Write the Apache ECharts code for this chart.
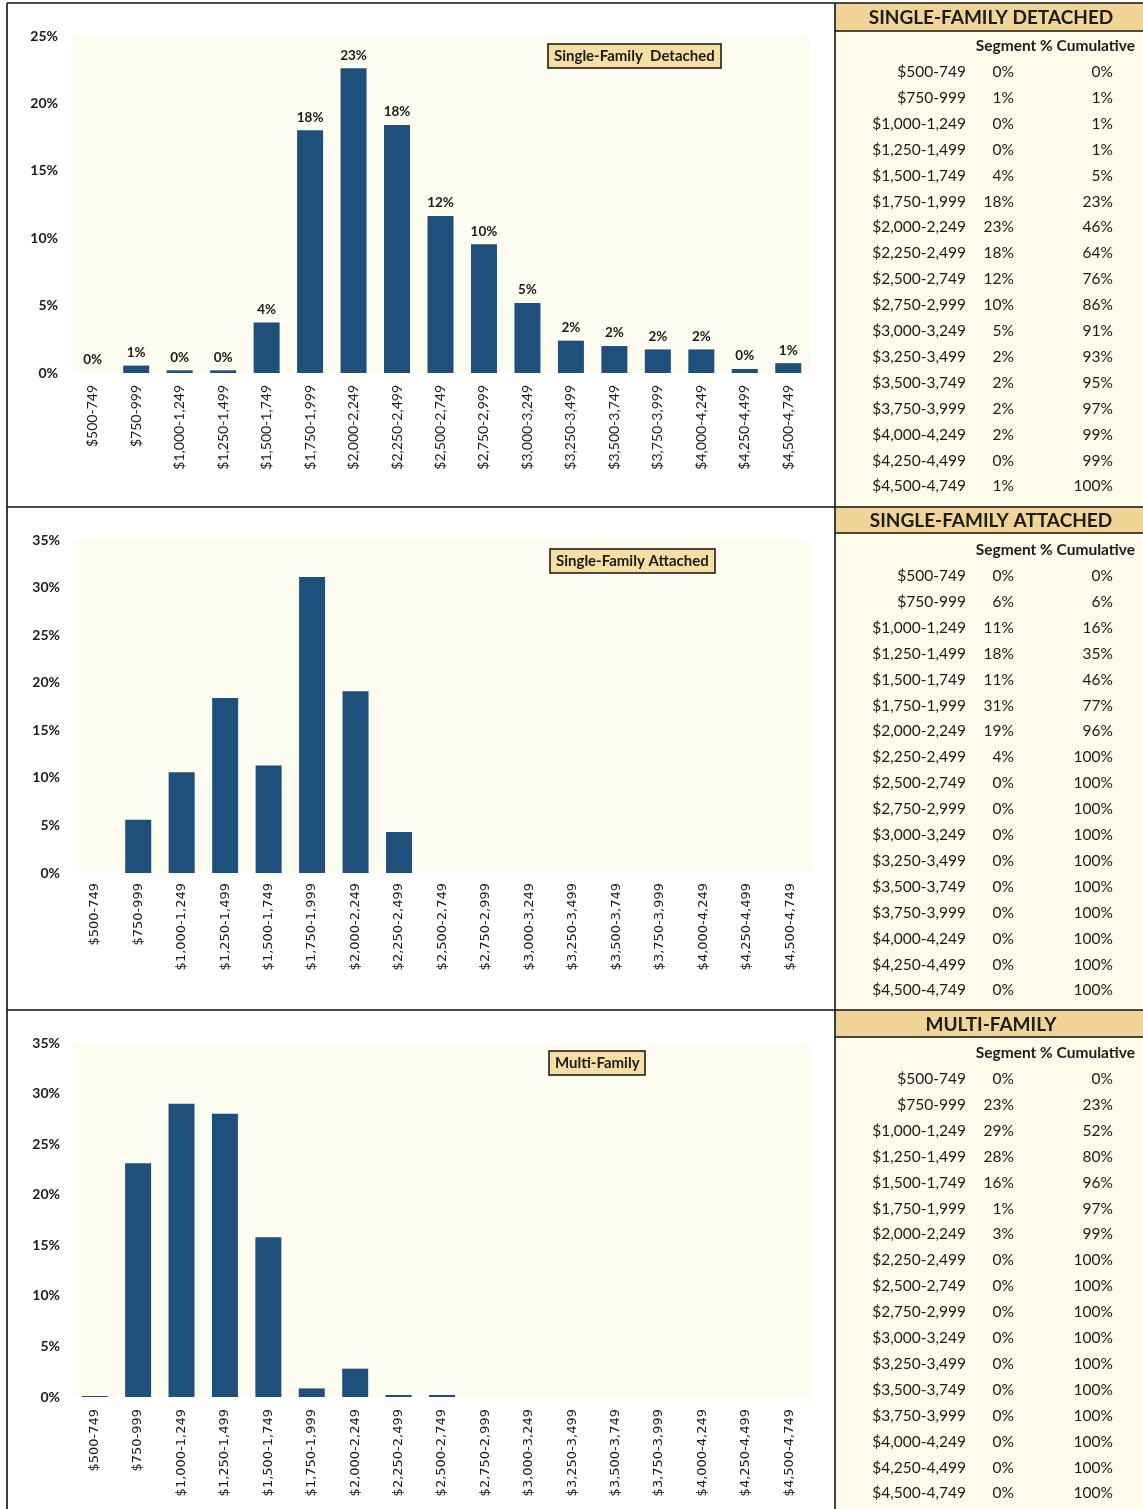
<!DOCTYPE html>
<html>
<head>
<meta charset="utf-8">
<script src="https://cdn.jsdelivr.net/npm/echarts@6/dist/echarts.min.js"></script>
<style>
html,body{margin:0;padding:0;background:#ffffff;}
#main{width:1143px;height:1509px;}
</style>
</head>
<body>
<div id="main"></div>
<script>
// ---------- DATA ----------
const categories = ['$500-749','$750-999','$1,000-1,249','$1,250-1,499','$1,500-1,749','$1,750-1,999','$2,000-2,249','$2,250-2,499','$2,500-2,749','$2,750-2,999','$3,000-3,249','$3,250-3,499','$3,500-3,749','$3,750-3,999','$4,000-4,249','$4,250-4,499','$4,500-4,749'];

const sfdValues = [0, 0.55, 0.2, 0.2, 3.74, 18.0, 22.6, 18.4, 11.65, 9.55, 5.2, 2.4, 2.0, 1.75, 1.75, 0.3, 0.73];
const sfaValues = [0, 5.6, 10.6, 18.4, 11.3, 31.1, 19.1, 4.3, 0, 0, 0, 0, 0, 0, 0, 0, 0];
const mfValues  = [0.1, 23.1, 29.0, 28.0, 15.8, 0.85, 2.8, 0.2, 0.2, 0, 0, 0, 0, 0, 0, 0, 0];

const sfdSegment = [0,1,0,0,4,18,23,18,12,10,5,2,2,2,2,0,1];
const sfdCumulative = [0,1,1,1,5,23,46,64,76,86,91,93,95,97,99,99,100];
const sfaSegment = [0,6,11,18,11,31,19,4,0,0,0,0,0,0,0,0,0];
const sfaCumulative = [0,6,16,35,46,77,96,100,100,100,100,100,100,100,100,100,100];
const mfSegment = [0,23,29,28,16,1,3,0,0,0,0,0,0,0,0,0,0];
const mfCumulative = [0,23,52,80,96,97,99,100,100,100,100,100,100,100,100,100,100];

const chartTitles = ['Single-Family  Detached','Single-Family Attached','Multi-Family'];
const tableTitles = ['SINGLE-FAMILY DETACHED','SINGLE-FAMILY ATTACHED','MULTI-FAMILY'];
const tableHeader = 'Segment % Cumulative';

// ---------- STYLE / LAYOUT ----------
const BAR = '#1f4f7b', TXT = '#1b1b1b';
const TAN = '#f0d597', BOXTAN = '#f7dfa3', CREAM = '#fdfcf0', TABLEBG = '#fefbea';
const FONT = 'Lato, "Open Sans", sans-serif';
const VFONT = '"DejaVu Sans", Verdana, sans-serif';

const panels = [
  {top: 36, height: 337, max: 25, left: 71, right: 333, values: sfdValues, labels: true, xFont: FONT, xSize: 14, xMargin: 12,
   box: {left: 548, top: 44}},
  {top: 540, height: 333, max: 35, left: 73, right: 331, values: sfaValues, labels: false, xFont: VFONT, xSize: 13, xMargin: 10,
   box: {left: 550, top: 549}},
  {top: 1043, height: 354, max: 35, left: 73, right: 332, values: mfValues, labels: false, xFont: VFONT, xSize: 13, xMargin: 12,
   box: {left: 549, top: 1051}}
];

const grids = [], xAxes = [], yAxes = [], series = [], titles = [];
panels.forEach((p, i) => {
  grids.push({left: p.left, right: p.right, top: p.top, height: p.height, show: true, backgroundColor: CREAM, borderWidth: 0, containLabel: false});
  xAxes.push({type: 'category', gridIndex: i, data: categories,
    axisLine: {show: false}, axisTick: {show: false},
    axisLabel: {rotate: 90, interval: 0, margin: p.xMargin, fontFamily: p.xFont, fontSize: p.xSize, color: TXT}});
  yAxes.push({type: 'value', gridIndex: i, min: 0, max: p.max, interval: 5,
    axisLine: {show: false}, axisTick: {show: false}, splitLine: {show: false},
    axisLabel: {formatter: '{value}%', margin: 13, fontFamily: FONT, fontWeight: 'bold', fontSize: 14, color: TXT}});
  series.push({type: 'bar', xAxisIndex: i, yAxisIndex: i, data: p.values, barWidth: 26,
    itemStyle: {color: BAR, borderWidth: 0},
    label: {show: p.labels, position: 'top', distance: 6, fontFamily: FONT, fontWeight: 'bold', fontSize: 13.5, color: TXT,
      formatter: (d) => Math.round(d.value) + '%'},
    silent: true});
  titles.push({text: chartTitles[i], left: p.box.left, top: p.box.top,
    backgroundColor: BOXTAN, borderColor: '#111', borderWidth: 1.5, padding: [5, 6, 4, 6],
    textStyle: {fontFamily: FONT, fontWeight: 'bold', fontSize: 15, color: TXT}});
});

// ---------- TABLES & FRAME (graphic) ----------
const graphics = [];
const tableTops = [3, 507, 1010];
const tableData = [[sfdSegment, sfdCumulative], [sfaSegment, sfaCumulative], [mfSegment, mfCumulative]];
const headerH = [28, 26, 27];

graphics.push({type: 'rect', shape: {x: 835, y: 3, width: 308, height: 1506}, style: {fill: TABLEBG}, z: 0});

tableTops.forEach((t, k) => {
  graphics.push({type: 'rect', shape: {x: 835, y: t, width: 308, height: headerH[k]}, style: {fill: TAN}, z: 1});
  graphics.push({type: 'text', x: 991, y: t + headerH[k] / 2 + 1, z: 5,
    style: {text: tableTitles[k], fontFamily: FONT, fontWeight: 'bold', fontSize: 19, fill: TXT, align: 'center', verticalAlign: 'middle'}});
  graphics.push({type: 'line', shape: {x1: 835, y1: t + headerH[k], x2: 1143, y2: t + headerH[k]}, style: {stroke: '#111', lineWidth: 1.5}, z: 6});
  graphics.push({type: 'text', x: 1135, y: t + 43, z: 5,
    style: {text: tableHeader, fontFamily: FONT, fontWeight: 'bold', fontSize: 15.5, fill: TXT, align: 'right', verticalAlign: 'middle'}});
  const seg = tableData[k][0], cum = tableData[k][1];
  categories.forEach((c, r) => {
    const y = t + 69 + r * 25.9;
    graphics.push({type: 'text', x: 966, y: y, z: 5, style: {text: c, fontFamily: FONT, fontSize: 15.5, fill: TXT, align: 'right', verticalAlign: 'middle'}});
    graphics.push({type: 'text', x: 1014, y: y, z: 5, style: {text: seg[r] + '%', fontFamily: FONT, fontSize: 15.5, fill: TXT, align: 'right', verticalAlign: 'middle'}});
    graphics.push({type: 'text', x: 1113, y: y, z: 5, style: {text: cum[r] + '%', fontFamily: FONT, fontSize: 15.5, fill: TXT, align: 'right', verticalAlign: 'middle'}});
  });
});

const frame = [
  [7, 3, 1143, 3],
  [7, 3, 7, 1509],
  [835, 3, 835, 1509],
  [7, 507, 1143, 507],
  [7, 1010, 1143, 1010]
];
frame.forEach(f => graphics.push({type: 'line', shape: {x1: f[0], y1: f[1], x2: f[2], y2: f[3]}, style: {stroke: '#111', lineWidth: 1.6}, z: 7}));

const chart = echarts.init(document.getElementById('main'), null, {renderer: 'canvas'});
chart.setOption({
  animation: false,
  backgroundColor: '#ffffff',
  title: titles,
  grid: grids,
  xAxis: xAxes,
  yAxis: yAxes,
  series: series,
  graphic: graphics
});
</script>
</body>
</html>
